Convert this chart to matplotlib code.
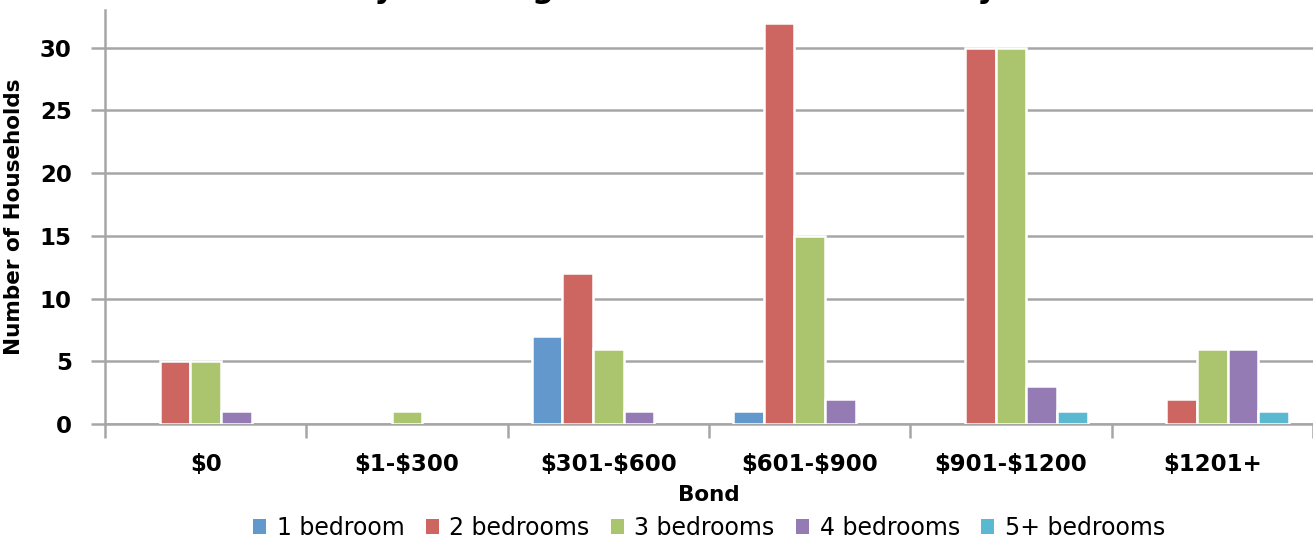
import numpy as np
import matplotlib.pyplot as plt
from matplotlib.ticker import FixedLocator

# Households by bond range and dwelling size
bond_ranges = ["$0", "$1-$300", "$301-$600", "$601-$900", "$901-$1200", "$1201+"]
bed_1 = [0, 0, 7, 1, 0, 0]
bed_2 = [5, 0, 12, 32, 30, 2]
bed_3 = [5, 1, 6, 15, 30, 6]
bed_4 = [1, 0, 1, 2, 3, 6]
bed_5plus = [0, 0, 0, 0, 1, 1]

series = [
    ("1 bedroom", bed_1, "#6398cc"),
    ("2 bedrooms", bed_2, "#cd6660"),
    ("3 bedrooms", bed_3, "#abc46e"),
    ("4 bedrooms", bed_4, "#957bb3"),
    ("5+ bedrooms", bed_5plus, "#5bb8d1"),
]

fig = plt.figure(figsize=(13.13, 5.4), dpi=100)
ax = fig.add_axes([0.080, 0.2148, 0.920, 0.7667])

x = np.arange(len(bond_ranges))
w = 0.152
for i, (name, vals, col) in enumerate(series):
    vals = np.array(vals, dtype=float)
    keep = vals > 0
    ax.bar(x[keep] + (i - 2) * w, vals[keep], width=w, color=col,
           edgecolor="white", linewidth=1.8, zorder=3)
    # empty bar so every series gets a legend square
    ax.bar([0], [0], width=0, color=col, label=name)

ax.set_xlim(-0.5, len(bond_ranges) - 0.5)
ax.set_ylim(0, 33)
ax.set_yticks(range(0, 31, 5))
ax.yaxis.grid(True, color="#a6a6a6", linewidth=1.8, zorder=0)
ax.set_axisbelow(True)

# escape the dollar signs so they are not read as mathtext
ax.set_xticks(x)
ax.set_xticklabels([s.replace("$", r"\$") for s in bond_ranges],
                   fontsize=16.5, fontweight="bold")
ax.xaxis.set_minor_locator(FixedLocator(np.arange(-0.5, len(bond_ranges), 1.0)))
ax.tick_params(axis="x", which="major", length=0, pad=21)
ax.tick_params(axis="x", which="minor", length=10, width=1.8, color="#a6a6a6")
ax.tick_params(axis="y", length=10, width=1.8, color="#a6a6a6", labelsize=16.5, pad=14)
for lab in ax.get_yticklabels():
    lab.set_fontweight("bold")

for side in ["top", "right"]:
    ax.spines[side].set_visible(False)
for side in ["left", "bottom"]:
    ax.spines[side].set_color("#a6a6a6")
    ax.spines[side].set_linewidth(1.8)

ax.set_xlabel("Bond", fontsize=15.5, fontweight="bold", labelpad=6)
ax.set_ylabel("Number of Households", fontsize=15.5, fontweight="bold", labelpad=11)

fig.text(170 / 1313, 1.0 + 2 / 540, "Bond Paid by Dwelling Size in the Rental Survey",
         ha="left", va="baseline", fontsize=22, fontweight="bold")

ax.legend(loc="center", bbox_to_anchor=(0.5, -0.251), ncol=5, frameon=False,
          fontsize=17, handlelength=0.55, handleheight=0.55, handletextpad=0.45,
          columnspacing=0.9, borderpad=0)

fig.savefig("out.png", dpi=100)
